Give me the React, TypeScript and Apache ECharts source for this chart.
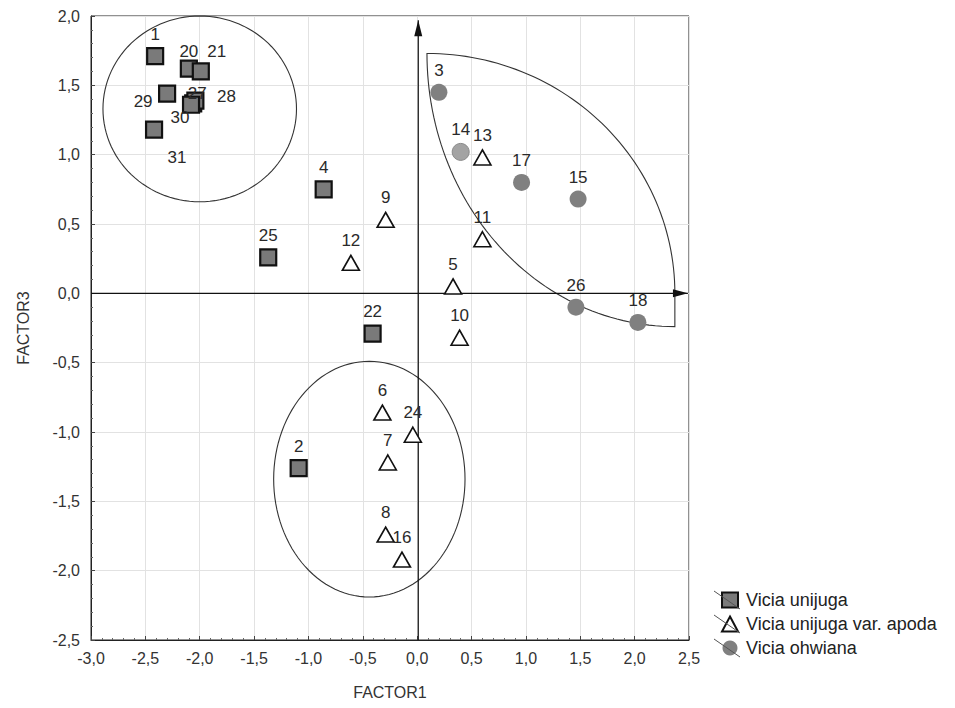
import React, { useEffect, useRef } from "react";
import * as echarts from "echarts";

// ---- data ----
const unijugaIds = ["1", "20", "21", "29", "27", "28", "30", "31", "4", "25", "22", "2"];
const unijugaX = [-2.41, -2.1, -1.99, -2.3, -2.06, -2.04, -2.08, -2.42, -0.86, -1.37, -0.41, -1.09];
const unijugaY = [1.71, 1.62, 1.6, 1.44, 1.37, 1.39, 1.36, 1.18, 0.75, 0.26, -0.29, -1.26];

const apodaIds = ["9", "12", "5", "13", "11", "10", "6", "24", "7", "8", "16"];
const apodaX = [-0.29, -0.61, 0.33, 0.6, 0.6, 0.39, -0.32, -0.04, -0.27, -0.29, -0.14];
const apodaY = [0.53, 0.22, 0.05, 0.98, 0.39, -0.32, -0.86, -1.02, -1.22, -1.74, -1.92];

const ohwianaIds = ["3", "14", "17", "15", "26", "18"];
const ohwianaX = [0.2, 0.4, 0.96, 1.48, 1.46, 2.03];
const ohwianaY = [1.45, 1.02, 0.8, 0.68, -0.1, -0.21];

const seriesNames = ["Vicia unijuga", "Vicia unijuga var. apoda", "Vicia ohwiana"];
const xTicks = { min: -3, max: 2.5, interval: 0.5 };
const yTicks = { min: -2.5, max: 2, interval: 0.5 };

// ---- annotation shapes (data units) ----
const clusterEllipses = [
  { cx: -2.0, cy: 1.33, rx: 0.89, ry: 0.67 },
  { cx: -0.44, cy: -1.34, rx: 0.88, ry: 0.85 },
];
const lensOuter = { cx: 0.09, cy: 0, rx: 2.28, ry: 1.73 };
const lensInner = { cx: 2.37, cy: 1.73, rx: 2.28, ry: 1.97 };

// ---- label placement (pixel offsets) ----
const labelOffsets: Record<string, [number, number]> = {
  "20": [0, -17],
  "21": [16, -20],
  "29": [-24, 8],
  "27": [4, -10],
  "28": [31, -4],
  "30": [-11, 13],
  "31": [23, 28],
};
const FONT = "Liberation Sans, Arial, sans-serif";

function buildData(ids: string[], xs: number[], ys: number[], extra?: (id: string) => any) {
  return ids.map((id, i) => ({
    name: id,
    value: [xs[i], ys[i]],
    label: { offset: labelOffsets[id] || [0, -22] },
    ...(extra ? extra(id) : {}),
  }));
}

const fmt = (v: number) => v.toFixed(1).replace(".", ",");

const LEGEND_LEFT = 716;
const LEGEND_TOP = 586;
const LEGEND_ROW = 24;

export default function App() {
  const ref = useRef<HTMLDivElement>(null);
  useEffect(() => {
    if (!ref.current) return;
    const chart = echarts.init(ref.current, undefined, { renderer: "svg" });
    const labelCfg = {
      show: true,
      position: "inside",
      formatter: "{b}",
      color: "#2a2a2a",
      fontSize: 17,
      fontFamily: FONT,
    };
    const option: any = {
      animation: false,
      backgroundColor: "#fff",
      grid: {
        left: 91,
        top: 16,
        right: 266,
        bottom: 68,
        show: true,
        borderColor: "#222",
        borderWidth: 1,
        backgroundColor: "transparent",
      },
      xAxis: {
        type: "value",
        ...xTicks,
        name: "FACTOR1",
        nameLocation: "middle",
        nameGap: 44,
        nameTextStyle: { fontSize: 16, color: "#333", fontFamily: FONT },
        axisLine: { show: true, onZero: false, lineStyle: { color: "#222" } },
        axisTick: { show: true, inside: true, length: 4, lineStyle: { color: "#444" } },
        minorTick: { show: true, splitNumber: 5, length: 2, lineStyle: { color: "#666" } },
        splitLine: { show: true, lineStyle: { color: "#e2e2e2", width: 1 } },
        axisLabel: { formatter: fmt, fontSize: 16, color: "#333", fontFamily: FONT, margin: 10 },
      },
      yAxis: {
        type: "value",
        ...yTicks,
        name: "FACTOR3",
        nameLocation: "middle",
        nameGap: 60,
        nameRotate: 90,
        nameTextStyle: { fontSize: 16, color: "#333", fontFamily: FONT },
        axisLine: { show: true, onZero: false, lineStyle: { color: "#222" } },
        axisTick: { show: true, inside: true, length: 4, lineStyle: { color: "#444" } },
        minorTick: { show: true, splitNumber: 5, length: 2, lineStyle: { color: "#666" } },
        splitLine: { show: true, lineStyle: { color: "#e2e2e2", width: 1 } },
        axisLabel: { formatter: fmt, fontSize: 16, color: "#333", fontFamily: FONT, margin: 11 },
      },
      legend: {
        orient: "vertical",
        left: LEGEND_LEFT,
        top: LEGEND_TOP,
        itemWidth: 16,
        itemHeight: 15,
        itemGap: 6,
        data: seriesNames,
        textStyle: { fontSize: 18, color: "#222", fontFamily: FONT, padding: [0, 0, 0, 3] },
      },
      graphic: seriesNames.map((_, i) => ({
        type: "line",
        silent: true,
        z: 100,
        shape: {
          x1: LEGEND_LEFT - 2,
          y1: LEGEND_TOP + 14 + i * LEGEND_ROW - 9,
          x2: LEGEND_LEFT + 24,
          y2: LEGEND_TOP + 14 + i * LEGEND_ROW + 9,
        },
        style: { stroke: "#555", lineWidth: 1 },
      })),
      series: [
        {
          type: "custom",
          name: "shapes",
          silent: true,
          clip: false,
          z: 1,
          data: [[0, 0]],
          renderItem: (_params: any, api: any) => {
            const children: any[] = [];
            const lineStyle = { stroke: "#333", lineWidth: 1.1, fill: "none" };
            for (const e of clusterEllipses) {
              const pts: number[][] = [];
              for (let i = 0; i <= 120; i++) {
                const t = (i / 120) * Math.PI * 2;
                pts.push(api.coord([e.cx + e.rx * Math.cos(t), e.cy + e.ry * Math.sin(t)]));
              }
              children.push({ type: "polyline", shape: { points: pts }, style: lineStyle });
            }
            const lens: number[][] = [];
            for (let i = 0; i <= 60; i++) {
              const t = Math.PI / 2 - (i / 60) * (Math.PI / 2);
              lens.push(api.coord([lensOuter.cx + lensOuter.rx * Math.cos(t), lensOuter.cy + lensOuter.ry * Math.sin(t)]));
            }
            for (let i = 0; i <= 60; i++) {
              const t = (3 * Math.PI) / 2 - (i / 60) * (Math.PI / 2);
              lens.push(api.coord([lensInner.cx + lensInner.rx * Math.cos(t), lensInner.cy + lensInner.ry * Math.sin(t)]));
            }
            children.push({ type: "polygon", shape: { points: lens }, style: lineStyle });
            // axis arrows
            const vb = api.coord([0.01, -2.5]);
            const vt = api.coord([0.01, 1.97]);
            children.push({ type: "line", shape: { x1: vb[0], y1: vb[1], x2: vt[0], y2: vt[1] }, style: { stroke: "#111", lineWidth: 1.2 } });
            children.push({
              type: "polygon",
              shape: { points: [[vt[0], vt[1]], [vt[0] - 4, vt[1] + 16], [vt[0] + 4, vt[1] + 16]] },
              style: { fill: "#111" },
            });
            const hl = api.coord([-3, 0]);
            const hr = api.coord([2.49, 0]);
            children.push({ type: "line", shape: { x1: hl[0], y1: hl[1], x2: hr[0], y2: hr[1] }, style: { stroke: "#111", lineWidth: 1.2 } });
            children.push({
              type: "polygon",
              shape: { points: [[hr[0], hr[1]], [hr[0] - 15, hr[1] - 4], [hr[0] - 15, hr[1] + 4]] },
              style: { fill: "#111" },
            });
            return { type: "group", children };
          },
        },
        {
          type: "scatter",
          name: seriesNames[0],
          z: 3,
          symbol: "rect",
          symbolSize: 16,
          itemStyle: { color: "#7a7a7a", borderColor: "#111", borderWidth: 2.2, opacity: 1 },
          label: labelCfg,
          data: buildData(unijugaIds, unijugaX, unijugaY),
        },
        {
          type: "scatter",
          name: seriesNames[1],
          z: 3,
          symbol: "triangle",
          symbolSize: [17, 15],
          itemStyle: { color: "#fff", borderColor: "#111", borderWidth: 1.6, opacity: 1 },
          label: labelCfg,
          data: buildData(apodaIds, apodaX, apodaY),
        },
        {
          type: "scatter",
          name: seriesNames[2],
          z: 3,
          symbol: "circle",
          symbolSize: 17,
          itemStyle: { color: "#808080", opacity: 1 },
          label: labelCfg,
          data: buildData(ohwianaIds, ohwianaX, ohwianaY, (id) =>
            id === "14" ? { itemStyle: { color: "#a3a3a3", borderColor: "#8a8a8a", borderWidth: 1 } } : {}
          ),
        },
      ],
    };
    chart.setOption(option);
    return () => chart.dispose();
  }, []);
  return (
    <div
      ref={ref}
      style={{ position: "fixed", left: 0, top: 0, width: 955, height: 708, background: "#fff" }}
    />
  );
}
